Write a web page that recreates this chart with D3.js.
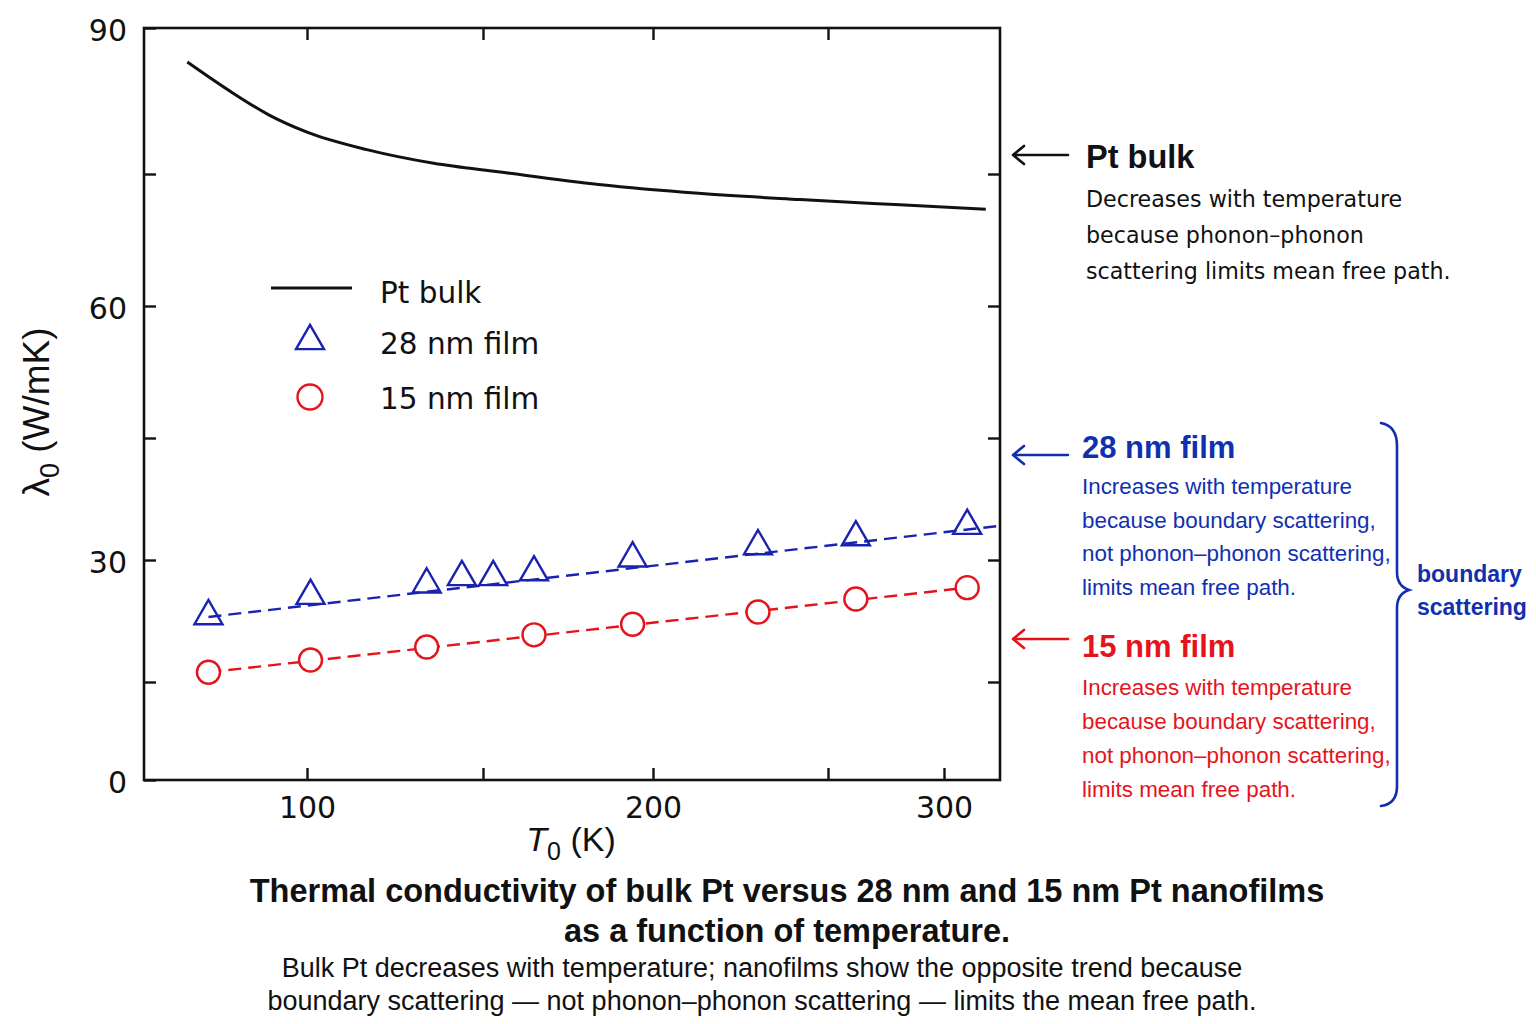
<!DOCTYPE html>
<html>
<head>
<meta charset="utf-8">
<script src="https://cdn.jsdelivr.net/npm/d3@7"></script>
<style>
  html, body { margin: 0; padding: 0; background: #fff; }
  svg { display: block; }
</style>
</head>
<body>
<svg id="chart" width="1536" height="1024"></svg>
<script>
// ---------- data ----------
const xTickValues = [100, 150, 200, 250, 300];
const xTickLabels = [100, 200, 300];
const xTopTickValues = [100, 150, 200, 250];
const yTickValues = [0, 15, 30, 45, 60, 75, 90];
const yTickLabels = [0, 30, 60, 90];

// Pt bulk (solid curve)
const bulkT = [66, 79, 89, 100, 117, 136, 155, 184, 213, 242, 281, 318];
const bulkK = [86.5, 83.3, 81.1, 79.3, 77.5, 76.1, 75.2, 73.8, 72.8, 72.1, 71.5, 71.0];

// 28 nm film (triangles)
const film28T = [72, 101, 134, 144, 153, 165, 194, 230, 262, 310];
const film28K = [23.1, 25.6, 27.0, 27.9, 27.9, 28.5, 30.2, 31.7, 32.8, 34.2];
// 15 nm film (circles)
const film15T = [72, 101, 134, 165, 194, 230, 262, 310];
const film15K = [16.2, 17.7, 19.3, 20.8, 22.1, 23.6, 25.2, 26.6];

// linear trend lines (dashed)
const fit28T = [72, 324];
const fit28K = [23.0, 34.2];
const fit15T = [72, 310];
const fit15K = [16.2, 26.6];

// ---------- styles ----------
const BLUE = "#1a22b0";
const BLUE_TXT = "#1030b0";
const RED = "#e5141c";
const SANS = "'Liberation Sans', Arial, sans-serif";
const WIDE = "'DejaVu Sans', sans-serif";

const svg = d3.select("#chart");
svg.append("rect").attr("width", 1536).attr("height", 1024).attr("fill", "#fff");

const L = 144, R = 1000, T = 28, B = 780;

// piecewise scales (the reference axes are not uniformly spaced)
const x = d3.scaleLinear().domain([100, 150, 200, 250, 300]).range([307, 483, 653, 828, 944]);
const y = d3.scaleLinear().domain([0, 15, 30, 45, 60, 75, 90]).range([780, 682, 560, 438, 306, 174, 28]);

// ---------- axes ----------
const tickLen = 12;
const gB = svg.append("g").attr("transform", `translate(0,${B})`)
  .call(d3.axisBottom(x).tickValues(xTickValues).tickSizeInner(-tickLen).tickSizeOuter(0).tickPadding(17)
    .tickFormat(d => xTickLabels.includes(d) ? d : ""));
const gT = svg.append("g").attr("transform", `translate(0,${T})`)
  .call(d3.axisTop(x).tickValues(xTopTickValues).tickSizeInner(-tickLen).tickSizeOuter(0).tickFormat(""));
const gL = svg.append("g").attr("transform", `translate(${L},0)`)
  .call(d3.axisLeft(y).tickValues(yTickValues).tickSizeInner(-tickLen).tickSizeOuter(0).tickPadding(17)
    .tickFormat(d => yTickLabels.includes(d) ? d : ""));
const gR = svg.append("g").attr("transform", `translate(${R},0)`)
  .call(d3.axisRight(y).tickValues(yTickValues.filter(v => v > 0 && v < 90)).tickSizeInner(-tickLen).tickSizeOuter(0).tickFormat(""));

[gB, gT, gL, gR].forEach(g => {
  g.select(".domain").remove();
  g.selectAll(".tick line").attr("stroke", "#111").attr("stroke-width", 2.4);
  g.selectAll(".tick text").attr("fill", "#111").attr("font-family", WIDE).attr("font-size", 30);
});
gL.selectAll(".tick text").attr("dy", "0.42em");

// frame
svg.append("rect").attr("x", L).attr("y", T).attr("width", R - L).attr("height", B - T)
  .attr("fill", "none").attr("stroke", "#111").attr("stroke-width", 2.6);

// ---------- axis titles ----------
const xl = svg.append("text").attr("x", 571).attr("y", 851).attr("text-anchor", "middle")
  .attr("font-family", SANS).attr("font-size", 34).attr("fill", "#111");
xl.append("tspan").attr("font-style", "italic").text("T");
xl.append("tspan").attr("dy", 9).attr("font-size", 25).text("0");
xl.append("tspan").attr("dy", -9).text(" (K)");

const yl = svg.append("text").attr("transform", "translate(49,412) rotate(-90)").attr("text-anchor", "middle")
  .attr("font-family", SANS).attr("font-size", 37).attr("fill", "#111");
yl.append("tspan").text("λ");
yl.append("tspan").attr("dy", 10).attr("font-size", 27).text("0");
yl.append("tspan").attr("dy", -10).text(" (W/mK)");

// ---------- series ----------
const line = d3.line().x(d => x(d[0])).y(d => y(d[1]));

svg.append("path").datum(d3.zip(bulkT, bulkK))
  .attr("d", line.curve(d3.curveMonotoneX)).attr("fill", "none").attr("stroke", "#111").attr("stroke-width", 3);

const straight = d3.line().x(d => x(d[0])).y(d => y(d[1]));
svg.append("path").datum(d3.zip(fit28T, fit28K)).attr("d", straight)
  .attr("fill", "none").attr("stroke", BLUE).attr("stroke-width", 2.4).attr("stroke-dasharray", "13,7");
svg.append("path").datum(d3.zip(fit15T, fit15K)).attr("d", straight)
  .attr("fill", "none").attr("stroke", RED).attr("stroke-width", 2.4).attr("stroke-dasharray", "13,7");

const tri = d3.symbol().type(d3.symbolTriangle).size(28 * 28 * Math.sqrt(3) / 4);
svg.append("g").selectAll("path").data(d3.zip(film28T, film28K)).join("path")
  .attr("d", tri).attr("transform", d => `translate(${x(d[0])},${y(d[1])})`)
  .attr("fill", "none").attr("stroke", BLUE).attr("stroke-width", 2.4);

svg.append("g").selectAll("circle").data(d3.zip(film15T, film15K)).join("circle")
  .attr("cx", d => x(d[0])).attr("cy", d => y(d[1])).attr("r", 11.5)
  .attr("fill", "#fff").attr("stroke", RED).attr("stroke-width", 2.4);

// ---------- legend ----------
const lg = svg.append("g");
lg.append("line").attr("x1", 271).attr("x2", 352).attr("y1", 288).attr("y2", 288).attr("stroke", "#111").attr("stroke-width", 3);
lg.append("path").attr("d", tri).attr("transform", "translate(310,341)").attr("fill", "none").attr("stroke", BLUE).attr("stroke-width", 2.4);
lg.append("circle").attr("cx", 310).attr("cy", 397).attr("r", 12.5).attr("fill", "#fff").attr("stroke", RED).attr("stroke-width", 2.4);
[["Pt bulk", 303], ["28 nm film", 354], ["15 nm film", 409]].forEach(([t, yy]) => {
  lg.append("text").attr("x", 380).attr("y", yy).attr("font-family", WIDE).attr("font-size", 29.5).attr("fill", "#111").text(t);
});

// ---------- annotations ----------
function arrow(yy, color) {
  svg.append("path").attr("d", `M1068,${yy} H1013 M1024,${yy - 9} L1013,${yy} L1024,${yy + 9}`)
    .attr("fill", "none").attr("stroke", color).attr("stroke-width", 2.6).attr("stroke-linecap", "round").attr("stroke-linejoin", "round");
}
arrow(155, "#111");
arrow(455, BLUE_TXT);
arrow(639, RED);

svg.append("text").attr("x", 1086).attr("y", 168).attr("font-family", SANS).attr("font-weight", "bold")
  .attr("font-size", 32.5).attr("fill", "#111").text("Pt bulk");
["Decreases with temperature", "because phonon–phonon", "scattering limits mean free path."].forEach((t, i) => {
  svg.append("text").attr("x", 1086).attr("y", 207 + i * 36).attr("font-family", WIDE).attr("font-size", 22.2).attr("fill", "#111").text(t);
});

svg.append("text").attr("x", 1082).attr("y", 458).attr("font-family", SANS).attr("font-weight", "bold")
  .attr("font-size", 31).attr("fill", BLUE_TXT).text("28 nm film");
const descFilm = ["Increases with temperature", "because boundary scattering,", "not phonon–phonon scattering,", "limits mean free path."];
descFilm.forEach((t, i) => {
  svg.append("text").attr("x", 1082).attr("y", 494 + i * 33.5).attr("font-family", SANS).attr("font-size", 22.4).attr("fill", BLUE_TXT).text(t);
});

svg.append("text").attr("x", 1082).attr("y", 657).attr("font-family", SANS).attr("font-weight", "bold")
  .attr("font-size", 31).attr("fill", RED).text("15 nm film");
descFilm.forEach((t, i) => {
  svg.append("text").attr("x", 1082).attr("y", 695 + i * 34).attr("font-family", SANS).attr("font-size", 22.4).attr("fill", RED).text(t);
});

// brace
svg.append("path")
  .attr("d", "M1381,423 Q1397,426 1397,446 L1397,572 Q1397,586 1409,590 Q1397,594 1397,608 L1397,786 Q1397,804 1381,806")
  .attr("fill", "none").attr("stroke", BLUE_TXT).attr("stroke-width", 2.6).attr("stroke-linecap", "round");
[["boundary", 582], ["scattering", 615]].forEach(([t, yy]) => {
  svg.append("text").attr("x", 1417).attr("y", yy).attr("font-family", SANS).attr("font-weight", "bold")
    .attr("font-size", 23).attr("fill", BLUE_TXT).text(t);
});

// ---------- title / caption ----------
[["Thermal conductivity of bulk Pt versus 28 nm and 15 nm Pt nanofilms", 902],
 ["as a function of temperature.", 942]].forEach(([t, yy]) => {
  svg.append("text").attr("x", 787).attr("y", yy).attr("text-anchor", "middle").attr("font-family", SANS)
    .attr("font-weight", "bold").attr("font-size", 32.5).attr("fill", "#111").text(t);
});
[["Bulk Pt decreases with temperature; nanofilms show the opposite trend because", 977],
 ["boundary scattering — not phonon–phonon scattering — limits the mean free path.", 1010]].forEach(([t, yy]) => {
  svg.append("text").attr("x", 762).attr("y", yy).attr("text-anchor", "middle").attr("font-family", SANS)
    .attr("font-size", 27).attr("fill", "#111").text(t);
});
</script>
</body>
</html>
